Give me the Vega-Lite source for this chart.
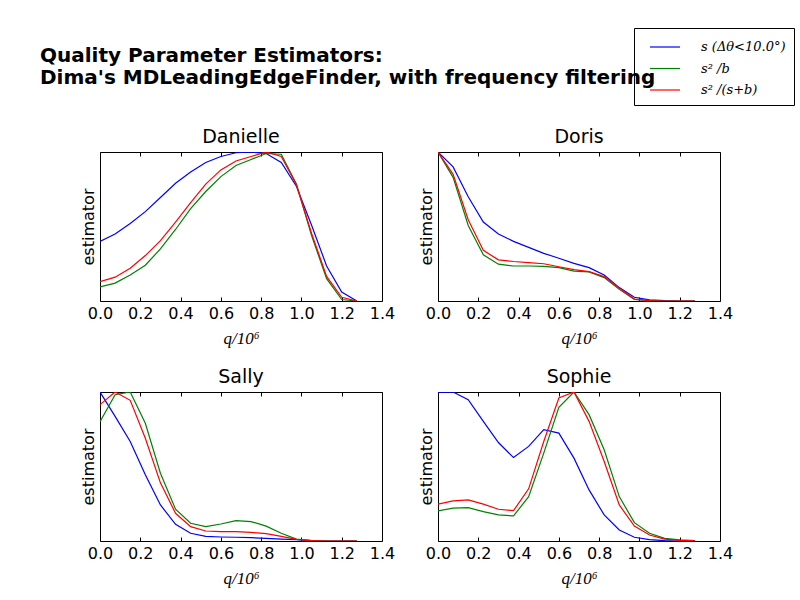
{
  "$schema": "https://vega.github.io/schema/vega-lite/v6.json",
  "padding": {"left": 40, "top": 27, "right": 5, "bottom": 5},
  "background": "white",
  "title": {
    "text": ["Quality Parameter Estimators:", "Dima's MDLeadingEdgeFinder, with frequency filtering"],
    "anchor": "start",
    "frame": "group",
    "dx": -60,
    "font": "DejaVu Sans",
    "fontSize": 20,
    "fontWeight": "bold",
    "lineHeight": 22,
    "offset": -60
  },
  "data": {
    "values": [
      {"panel": "Danielle", "series": "s (Δθ<10.0°)", "q": 0, "v": 0.40},
      {"panel": "Danielle", "series": "s (Δθ<10.0°)", "q": 0.075, "v": 0.45},
      {"panel": "Danielle", "series": "s (Δθ<10.0°)", "q": 0.15, "v": 0.52},
      {"panel": "Danielle", "series": "s (Δθ<10.0°)", "q": 0.225, "v": 0.60},
      {"panel": "Danielle", "series": "s (Δθ<10.0°)", "q": 0.3, "v": 0.695},
      {"panel": "Danielle", "series": "s (Δθ<10.0°)", "q": 0.375, "v": 0.79},
      {"panel": "Danielle", "series": "s (Δθ<10.0°)", "q": 0.45, "v": 0.865},
      {"panel": "Danielle", "series": "s (Δθ<10.0°)", "q": 0.525, "v": 0.93},
      {"panel": "Danielle", "series": "s (Δθ<10.0°)", "q": 0.6, "v": 0.97},
      {"panel": "Danielle", "series": "s (Δθ<10.0°)", "q": 0.675, "v": 0.995},
      {"panel": "Danielle", "series": "s (Δθ<10.0°)", "q": 0.75, "v": 1.0},
      {"panel": "Danielle", "series": "s (Δθ<10.0°)", "q": 0.825, "v": 0.99},
      {"panel": "Danielle", "series": "s (Δθ<10.0°)", "q": 0.9, "v": 0.93},
      {"panel": "Danielle", "series": "s (Δθ<10.0°)", "q": 0.975, "v": 0.77},
      {"panel": "Danielle", "series": "s (Δθ<10.0°)", "q": 1.05, "v": 0.51},
      {"panel": "Danielle", "series": "s (Δθ<10.0°)", "q": 1.125, "v": 0.235},
      {"panel": "Danielle", "series": "s (Δθ<10.0°)", "q": 1.2, "v": 0.06},
      {"panel": "Danielle", "series": "s (Δθ<10.0°)", "q": 1.275, "v": 0.0},
      {"panel": "Danielle", "series": "s² /b", "q": 0, "v": 0.095},
      {"panel": "Danielle", "series": "s² /b", "q": 0.075, "v": 0.12},
      {"panel": "Danielle", "series": "s² /b", "q": 0.15, "v": 0.175},
      {"panel": "Danielle", "series": "s² /b", "q": 0.225, "v": 0.24},
      {"panel": "Danielle", "series": "s² /b", "q": 0.3, "v": 0.35},
      {"panel": "Danielle", "series": "s² /b", "q": 0.375, "v": 0.48},
      {"panel": "Danielle", "series": "s² /b", "q": 0.45, "v": 0.62},
      {"panel": "Danielle", "series": "s² /b", "q": 0.525, "v": 0.735},
      {"panel": "Danielle", "series": "s² /b", "q": 0.6, "v": 0.835},
      {"panel": "Danielle", "series": "s² /b", "q": 0.675, "v": 0.91},
      {"panel": "Danielle", "series": "s² /b", "q": 0.75, "v": 0.95},
      {"panel": "Danielle", "series": "s² /b", "q": 0.825, "v": 0.99},
      {"panel": "Danielle", "series": "s² /b", "q": 0.9, "v": 0.985},
      {"panel": "Danielle", "series": "s² /b", "q": 0.975, "v": 0.785},
      {"panel": "Danielle", "series": "s² /b", "q": 1.05, "v": 0.44},
      {"panel": "Danielle", "series": "s² /b", "q": 1.125, "v": 0.15},
      {"panel": "Danielle", "series": "s² /b", "q": 1.2, "v": 0.01},
      {"panel": "Danielle", "series": "s² /b", "q": 1.275, "v": 0.0},
      {"panel": "Danielle", "series": "s² /(s+b)", "q": 0, "v": 0.13},
      {"panel": "Danielle", "series": "s² /(s+b)", "q": 0.075, "v": 0.16},
      {"panel": "Danielle", "series": "s² /(s+b)", "q": 0.15, "v": 0.22},
      {"panel": "Danielle", "series": "s² /(s+b)", "q": 0.225, "v": 0.305},
      {"panel": "Danielle", "series": "s² /(s+b)", "q": 0.3, "v": 0.405},
      {"panel": "Danielle", "series": "s² /(s+b)", "q": 0.375, "v": 0.53},
      {"panel": "Danielle", "series": "s² /(s+b)", "q": 0.45, "v": 0.66},
      {"panel": "Danielle", "series": "s² /(s+b)", "q": 0.525, "v": 0.785},
      {"panel": "Danielle", "series": "s² /(s+b)", "q": 0.6, "v": 0.88},
      {"panel": "Danielle", "series": "s² /(s+b)", "q": 0.675, "v": 0.94},
      {"panel": "Danielle", "series": "s² /(s+b)", "q": 0.75, "v": 0.97},
      {"panel": "Danielle", "series": "s² /(s+b)", "q": 0.825, "v": 1.0},
      {"panel": "Danielle", "series": "s² /(s+b)", "q": 0.9, "v": 0.97},
      {"panel": "Danielle", "series": "s² /(s+b)", "q": 0.975, "v": 0.78},
      {"panel": "Danielle", "series": "s² /(s+b)", "q": 1.05, "v": 0.455},
      {"panel": "Danielle", "series": "s² /(s+b)", "q": 1.125, "v": 0.165},
      {"panel": "Danielle", "series": "s² /(s+b)", "q": 1.2, "v": 0.025},
      {"panel": "Danielle", "series": "s² /(s+b)", "q": 1.275, "v": 0.0},
      {"panel": "Doris", "series": "s (Δθ<10.0°)", "q": 0, "v": 1.0},
      {"panel": "Doris", "series": "s (Δθ<10.0°)", "q": 0.075, "v": 0.90},
      {"panel": "Doris", "series": "s (Δθ<10.0°)", "q": 0.15, "v": 0.70},
      {"panel": "Doris", "series": "s (Δθ<10.0°)", "q": 0.225, "v": 0.53},
      {"panel": "Doris", "series": "s (Δθ<10.0°)", "q": 0.3, "v": 0.45},
      {"panel": "Doris", "series": "s (Δθ<10.0°)", "q": 0.375, "v": 0.40},
      {"panel": "Doris", "series": "s (Δθ<10.0°)", "q": 0.45, "v": 0.36},
      {"panel": "Doris", "series": "s (Δθ<10.0°)", "q": 0.525, "v": 0.32},
      {"panel": "Doris", "series": "s (Δθ<10.0°)", "q": 0.6, "v": 0.287},
      {"panel": "Doris", "series": "s (Δθ<10.0°)", "q": 0.675, "v": 0.253},
      {"panel": "Doris", "series": "s (Δθ<10.0°)", "q": 0.75, "v": 0.224},
      {"panel": "Doris", "series": "s (Δθ<10.0°)", "q": 0.825, "v": 0.175},
      {"panel": "Doris", "series": "s (Δθ<10.0°)", "q": 0.9, "v": 0.09},
      {"panel": "Doris", "series": "s (Δθ<10.0°)", "q": 0.975, "v": 0.025},
      {"panel": "Doris", "series": "s (Δθ<10.0°)", "q": 1.05, "v": 0.007},
      {"panel": "Doris", "series": "s (Δθ<10.0°)", "q": 1.125, "v": 0.002},
      {"panel": "Doris", "series": "s (Δθ<10.0°)", "q": 1.2, "v": 0.0},
      {"panel": "Doris", "series": "s (Δθ<10.0°)", "q": 1.275, "v": 0.0},
      {"panel": "Doris", "series": "s² /b", "q": 0, "v": 1.0},
      {"panel": "Doris", "series": "s² /b", "q": 0.075, "v": 0.83},
      {"panel": "Doris", "series": "s² /b", "q": 0.15, "v": 0.507},
      {"panel": "Doris", "series": "s² /b", "q": 0.225, "v": 0.31},
      {"panel": "Doris", "series": "s² /b", "q": 0.3, "v": 0.247},
      {"panel": "Doris", "series": "s² /b", "q": 0.375, "v": 0.235},
      {"panel": "Doris", "series": "s² /b", "q": 0.45, "v": 0.235},
      {"panel": "Doris", "series": "s² /b", "q": 0.525, "v": 0.233},
      {"panel": "Doris", "series": "s² /b", "q": 0.6, "v": 0.224},
      {"panel": "Doris", "series": "s² /b", "q": 0.675, "v": 0.20},
      {"panel": "Doris", "series": "s² /b", "q": 0.75, "v": 0.195},
      {"panel": "Doris", "series": "s² /b", "q": 0.825, "v": 0.157},
      {"panel": "Doris", "series": "s² /b", "q": 0.9, "v": 0.078},
      {"panel": "Doris", "series": "s² /b", "q": 0.975, "v": 0.011},
      {"panel": "Doris", "series": "s² /b", "q": 1.05, "v": 0.002},
      {"panel": "Doris", "series": "s² /b", "q": 1.125, "v": 0.0},
      {"panel": "Doris", "series": "s² /b", "q": 1.2, "v": 0.0},
      {"panel": "Doris", "series": "s² /b", "q": 1.275, "v": 0.0},
      {"panel": "Doris", "series": "s² /(s+b)", "q": 0, "v": 1.0},
      {"panel": "Doris", "series": "s² /(s+b)", "q": 0.075, "v": 0.85},
      {"panel": "Doris", "series": "s² /(s+b)", "q": 0.15, "v": 0.545},
      {"panel": "Doris", "series": "s² /(s+b)", "q": 0.225, "v": 0.34},
      {"panel": "Doris", "series": "s² /(s+b)", "q": 0.3, "v": 0.276},
      {"panel": "Doris", "series": "s² /(s+b)", "q": 0.375, "v": 0.265},
      {"panel": "Doris", "series": "s² /(s+b)", "q": 0.45, "v": 0.258},
      {"panel": "Doris", "series": "s² /(s+b)", "q": 0.525, "v": 0.25},
      {"panel": "Doris", "series": "s² /(s+b)", "q": 0.6, "v": 0.23},
      {"panel": "Doris", "series": "s² /(s+b)", "q": 0.675, "v": 0.21},
      {"panel": "Doris", "series": "s² /(s+b)", "q": 0.75, "v": 0.197},
      {"panel": "Doris", "series": "s² /(s+b)", "q": 0.825, "v": 0.164},
      {"panel": "Doris", "series": "s² /(s+b)", "q": 0.9, "v": 0.085},
      {"panel": "Doris", "series": "s² /(s+b)", "q": 0.975, "v": 0.013},
      {"panel": "Doris", "series": "s² /(s+b)", "q": 1.05, "v": 0.002},
      {"panel": "Doris", "series": "s² /(s+b)", "q": 1.125, "v": 0.0},
      {"panel": "Doris", "series": "s² /(s+b)", "q": 1.2, "v": 0.0},
      {"panel": "Doris", "series": "s² /(s+b)", "q": 1.275, "v": 0.0},
      {"panel": "Sally", "series": "s (Δθ<10.0°)", "q": 0, "v": 1.0},
      {"panel": "Sally", "series": "s (Δθ<10.0°)", "q": 0.075, "v": 0.836},
      {"panel": "Sally", "series": "s (Δθ<10.0°)", "q": 0.15, "v": 0.668},
      {"panel": "Sally", "series": "s (Δθ<10.0°)", "q": 0.225, "v": 0.444},
      {"panel": "Sally", "series": "s (Δθ<10.0°)", "q": 0.3, "v": 0.242},
      {"panel": "Sally", "series": "s (Δθ<10.0°)", "q": 0.375, "v": 0.112},
      {"panel": "Sally", "series": "s (Δθ<10.0°)", "q": 0.45, "v": 0.052},
      {"panel": "Sally", "series": "s (Δθ<10.0°)", "q": 0.525, "v": 0.031},
      {"panel": "Sally", "series": "s (Δθ<10.0°)", "q": 0.6, "v": 0.027},
      {"panel": "Sally", "series": "s (Δθ<10.0°)", "q": 0.675, "v": 0.025},
      {"panel": "Sally", "series": "s (Δθ<10.0°)", "q": 0.75, "v": 0.022},
      {"panel": "Sally", "series": "s (Δθ<10.0°)", "q": 0.825, "v": 0.018},
      {"panel": "Sally", "series": "s (Δθ<10.0°)", "q": 0.9, "v": 0.013},
      {"panel": "Sally", "series": "s (Δθ<10.0°)", "q": 0.975, "v": 0.009},
      {"panel": "Sally", "series": "s (Δθ<10.0°)", "q": 1.05, "v": 0.002},
      {"panel": "Sally", "series": "s (Δθ<10.0°)", "q": 1.125, "v": 0.0},
      {"panel": "Sally", "series": "s (Δθ<10.0°)", "q": 1.2, "v": 0.0},
      {"panel": "Sally", "series": "s (Δθ<10.0°)", "q": 1.275, "v": 0.0},
      {"panel": "Sally", "series": "s² /b", "q": 0, "v": 0.80},
      {"panel": "Sally", "series": "s² /b", "q": 0.075, "v": 0.982},
      {"panel": "Sally", "series": "s² /b", "q": 0.15, "v": 1.0},
      {"panel": "Sally", "series": "s² /b", "q": 0.225, "v": 0.79},
      {"panel": "Sally", "series": "s² /b", "q": 0.3, "v": 0.455},
      {"panel": "Sally", "series": "s² /b", "q": 0.375, "v": 0.213},
      {"panel": "Sally", "series": "s² /b", "q": 0.45, "v": 0.119},
      {"panel": "Sally", "series": "s² /b", "q": 0.525, "v": 0.096},
      {"panel": "Sally", "series": "s² /b", "q": 0.6, "v": 0.114},
      {"panel": "Sally", "series": "s² /b", "q": 0.675, "v": 0.137},
      {"panel": "Sally", "series": "s² /b", "q": 0.75, "v": 0.13},
      {"panel": "Sally", "series": "s² /b", "q": 0.825, "v": 0.10},
      {"panel": "Sally", "series": "s² /b", "q": 0.9, "v": 0.052},
      {"panel": "Sally", "series": "s² /b", "q": 0.975, "v": 0.013},
      {"panel": "Sally", "series": "s² /b", "q": 1.05, "v": 0.002},
      {"panel": "Sally", "series": "s² /b", "q": 1.125, "v": 0.0},
      {"panel": "Sally", "series": "s² /b", "q": 1.2, "v": 0.0},
      {"panel": "Sally", "series": "s² /b", "q": 1.275, "v": 0.0},
      {"panel": "Sally", "series": "s² /(s+b)", "q": 0, "v": 0.915},
      {"panel": "Sally", "series": "s² /(s+b)", "q": 0.075, "v": 1.0},
      {"panel": "Sally", "series": "s² /(s+b)", "q": 0.15, "v": 0.944},
      {"panel": "Sally", "series": "s² /(s+b)", "q": 0.225, "v": 0.69},
      {"panel": "Sally", "series": "s² /(s+b)", "q": 0.3, "v": 0.39},
      {"panel": "Sally", "series": "s² /(s+b)", "q": 0.375, "v": 0.186},
      {"panel": "Sally", "series": "s² /(s+b)", "q": 0.45, "v": 0.096},
      {"panel": "Sally", "series": "s² /(s+b)", "q": 0.525, "v": 0.067},
      {"panel": "Sally", "series": "s² /(s+b)", "q": 0.6, "v": 0.063},
      {"panel": "Sally", "series": "s² /(s+b)", "q": 0.675, "v": 0.063},
      {"panel": "Sally", "series": "s² /(s+b)", "q": 0.75, "v": 0.058},
      {"panel": "Sally", "series": "s² /(s+b)", "q": 0.825, "v": 0.049},
      {"panel": "Sally", "series": "s² /(s+b)", "q": 0.9, "v": 0.031},
      {"panel": "Sally", "series": "s² /(s+b)", "q": 0.975, "v": 0.011},
      {"panel": "Sally", "series": "s² /(s+b)", "q": 1.05, "v": 0.002},
      {"panel": "Sally", "series": "s² /(s+b)", "q": 1.125, "v": 0.0},
      {"panel": "Sally", "series": "s² /(s+b)", "q": 1.2, "v": 0.0},
      {"panel": "Sally", "series": "s² /(s+b)", "q": 1.275, "v": 0.0},
      {"panel": "Sophie", "series": "s (Δθ<10.0°)", "q": 0, "v": 0.998},
      {"panel": "Sophie", "series": "s (Δθ<10.0°)", "q": 0.075, "v": 1.0},
      {"panel": "Sophie", "series": "s (Δθ<10.0°)", "q": 0.15, "v": 0.948},
      {"panel": "Sophie", "series": "s (Δθ<10.0°)", "q": 0.225, "v": 0.803},
      {"panel": "Sophie", "series": "s (Δθ<10.0°)", "q": 0.3, "v": 0.661},
      {"panel": "Sophie", "series": "s (Δθ<10.0°)", "q": 0.375, "v": 0.56},
      {"panel": "Sophie", "series": "s (Δθ<10.0°)", "q": 0.45, "v": 0.635},
      {"panel": "Sophie", "series": "s (Δθ<10.0°)", "q": 0.525, "v": 0.747},
      {"panel": "Sophie", "series": "s (Δθ<10.0°)", "q": 0.6, "v": 0.724},
      {"panel": "Sophie", "series": "s (Δθ<10.0°)", "q": 0.675, "v": 0.556},
      {"panel": "Sophie", "series": "s (Δθ<10.0°)", "q": 0.75, "v": 0.343},
      {"panel": "Sophie", "series": "s (Δθ<10.0°)", "q": 0.825, "v": 0.175},
      {"panel": "Sophie", "series": "s (Δθ<10.0°)", "q": 0.9, "v": 0.074},
      {"panel": "Sophie", "series": "s (Δθ<10.0°)", "q": 0.975, "v": 0.025},
      {"panel": "Sophie", "series": "s (Δθ<10.0°)", "q": 1.05, "v": 0.009},
      {"panel": "Sophie", "series": "s (Δθ<10.0°)", "q": 1.125, "v": 0.002},
      {"panel": "Sophie", "series": "s (Δθ<10.0°)", "q": 1.2, "v": 0.0},
      {"panel": "Sophie", "series": "s (Δθ<10.0°)", "q": 1.275, "v": 0.0},
      {"panel": "Sophie", "series": "s² /b", "q": 0, "v": 0.202},
      {"panel": "Sophie", "series": "s² /b", "q": 0.075, "v": 0.22},
      {"panel": "Sophie", "series": "s² /b", "q": 0.15, "v": 0.224},
      {"panel": "Sophie", "series": "s² /b", "q": 0.225, "v": 0.197},
      {"panel": "Sophie", "series": "s² /b", "q": 0.3, "v": 0.175},
      {"panel": "Sophie", "series": "s² /b", "q": 0.375, "v": 0.168},
      {"panel": "Sophie", "series": "s² /b", "q": 0.45, "v": 0.298},
      {"panel": "Sophie", "series": "s² /b", "q": 0.525, "v": 0.59},
      {"panel": "Sophie", "series": "s² /b", "q": 0.6, "v": 0.897},
      {"panel": "Sophie", "series": "s² /b", "q": 0.675, "v": 1.0},
      {"panel": "Sophie", "series": "s² /b", "q": 0.75, "v": 0.848},
      {"panel": "Sophie", "series": "s² /b", "q": 0.825, "v": 0.612},
      {"panel": "Sophie", "series": "s² /b", "q": 0.9, "v": 0.298},
      {"panel": "Sophie", "series": "s² /b", "q": 0.975, "v": 0.123},
      {"panel": "Sophie", "series": "s² /b", "q": 1.05, "v": 0.052},
      {"panel": "Sophie", "series": "s² /b", "q": 1.125, "v": 0.018},
      {"panel": "Sophie", "series": "s² /b", "q": 1.2, "v": 0.007},
      {"panel": "Sophie", "series": "s² /b", "q": 1.275, "v": 0.002},
      {"panel": "Sophie", "series": "s² /(s+b)", "q": 0, "v": 0.247},
      {"panel": "Sophie", "series": "s² /(s+b)", "q": 0.075, "v": 0.269},
      {"panel": "Sophie", "series": "s² /(s+b)", "q": 0.15, "v": 0.276},
      {"panel": "Sophie", "series": "s² /(s+b)", "q": 0.225, "v": 0.247},
      {"panel": "Sophie", "series": "s² /(s+b)", "q": 0.3, "v": 0.213},
      {"panel": "Sophie", "series": "s² /(s+b)", "q": 0.375, "v": 0.204},
      {"panel": "Sophie", "series": "s² /(s+b)", "q": 0.45, "v": 0.35},
      {"panel": "Sophie", "series": "s² /(s+b)", "q": 0.525, "v": 0.668},
      {"panel": "Sophie", "series": "s² /(s+b)", "q": 0.6, "v": 0.96},
      {"panel": "Sophie", "series": "s² /(s+b)", "q": 0.675, "v": 1.0},
      {"panel": "Sophie", "series": "s² /(s+b)", "q": 0.75, "v": 0.803},
      {"panel": "Sophie", "series": "s² /(s+b)", "q": 0.825, "v": 0.534},
      {"panel": "Sophie", "series": "s² /(s+b)", "q": 0.9, "v": 0.242},
      {"panel": "Sophie", "series": "s² /(s+b)", "q": 0.975, "v": 0.10},
      {"panel": "Sophie", "series": "s² /(s+b)", "q": 1.05, "v": 0.04},
      {"panel": "Sophie", "series": "s² /(s+b)", "q": 1.125, "v": 0.013},
      {"panel": "Sophie", "series": "s² /(s+b)", "q": 1.2, "v": 0.004},
      {"panel": "Sophie", "series": "s² /(s+b)", "q": 1.275, "v": 0.002}
    ]
  },
  "facet": {
    "field": "panel",
    "type": "nominal",
    "header": {"title": null, "labelFont": "DejaVu Sans", "labelFontSize": 19, "labelColor": "black", "labelPadding": 5}
  },
  "columns": 2,
  "spacing": {"row": 91, "column": 56},
  "bounds": "flush",
  "resolve": {"axis": {"x": "independent", "y": "independent"}},
  "spec": {
    "width": 282,
    "height": 149,
    "resolve": {"axis": {"x": "independent"}},
    "layer": [
      {
        "mark": {"type": "line", "strokeWidth": 1.2, "clip": true},
        "encoding": {
          "x": {
            "field": "q",
            "type": "quantitative",
            "scale": {"domain": [0, 1.4], "nice": false},
            "axis": {
              "values": [0, 0.2, 0.4, 0.6, 0.8, 1.0, 1.2, 1.4],
              "format": ".1f",
              "title": "q/10⁶",
              "titleFont": "Liberation Serif",
              "titleFontStyle": "italic",
              "titleFontWeight": "normal",
              "titleFontSize": 17,
              "titlePadding": 9,
              "labelFont": "DejaVu Sans",
              "labelFontSize": 16,
              "labelColor": "black",
              "labelPadding": 8,
              "tickSize": -4,
              "tickColor": "black",
              "domain": false,
              "grid": false,
              "labelFlush": false
            }
          },
          "y": {
            "field": "v",
            "type": "quantitative",
            "scale": {"domain": [0, 1], "nice": false},
            "axis": {
              "title": "estimator",
              "titleFont": "DejaVu Sans",
              "titleFontSize": 16,
              "titleFontWeight": "normal",
              "titlePadding": 4,
              "labels": false,
              "ticks": false,
              "domain": false,
              "grid": false
            }
          },
          "color": {
            "field": "series",
            "type": "nominal",
            "scale": {
              "domain": ["s (Δθ<10.0°)", "s² /b", "s² /(s+b)"],
              "range": ["#0000ff", "#008000", "#ff0000"]
            },
            "legend": {"title": null}
          }
        }
      },
      {
        "mark": {"type": "point", "opacity": 0},
        "encoding": {
          "x": {
            "field": "q",
            "type": "quantitative",
            "axis": {
              "orient": "top",
              "values": [0, 0.2, 0.4, 0.6, 0.8, 1.0, 1.2, 1.4],
              "labels": false,
              "title": null,
              "tickSize": -4,
              "tickColor": "black",
              "domain": false,
              "grid": false
            }
          }
        }
      }
    ]
  },
  "config": {
    "font": "DejaVu Sans",
    "view": {"stroke": "black", "strokeWidth": 1},
    "legend": {
      "orient": "none",
      "legendX": 534,
      "legendY": -124,
      "strokeColor": "black",
      "fillColor": "white",
      "padding": 8,
      "symbolType": "M-0.3,0H2.7",
      "symbolSize": 400,
      "symbolStrokeWidth": 1.2,
      "labelFont": "DejaVu Serif",
      "labelFontStyle": "italic",
      "labelFontSize": 13,
      "labelColor": "black",
      "labelOffset": 37,
      "rowPadding": 3.5,
      "labelLimit": 200
    }
  }
}
